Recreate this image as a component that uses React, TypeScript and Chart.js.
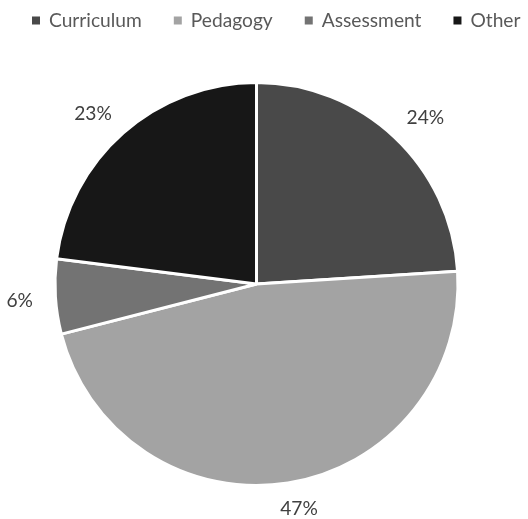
import React, { useEffect, useRef } from "react";
import { Chart, registerables } from "chart.js";

Chart.register(...registerables);

const categories = ["Curriculum", "Pedagogy", "Assessment", "Other"];
const shares = [24, 47, 6, 23];
const percentLabels = ["24%", "47%", "6%", "23%"];
const sliceColors = ["#494949", "#a3a3a3", "#737373", "#171717"];

const FONT = '"Lato", "Open Sans", sans-serif';
const FONT_SIZE = 19.2;

const labelPlugin = {
  id: "excelLabels",
  afterDraw(chart: any) {
    const ctx: CanvasRenderingContext2D = chart.ctx;
    ctx.save();
    ctx.font = `${FONT_SIZE}px ${FONT}`;
    // Legend
    let x = 32;
    categories.forEach((name, i) => {
      ctx.fillStyle = sliceColors[i];
      ctx.fillRect(x, 16.5, 8, 8);
      x += 8 + 9;
      ctx.fillStyle = "#595959";
      ctx.textBaseline = "alphabetic";
      ctx.textAlign = "left";
      ctx.fillText(name, x, 27);
      x += ctx.measureText(name).width + 32;
    });
    // Data labels, "outside end"
    const meta = chart.getDatasetMeta(0);
    const capH = ctx.measureText("0").actualBoundingBoxAscent;
    meta.data.forEach((arc: any, i: number) => {
      const p = arc.getProps(["x", "y", "startAngle", "endAngle", "outerRadius"], true);
      const mid = (p.startAngle + p.endAngle) / 2;
      const c = Math.cos(mid);
      const s = Math.sin(mid);
      const txt = percentLabels[i];
      const hw = ctx.measureText(txt).width / 2;
      const hh = 10;
      const r = p.outerRadius - 1.5;
      const ax = p.x + c * r;
      const ay = p.y + s * r;
      const cx = ax + Math.sign(c) * Math.sqrt(Math.abs(c)) * hw + c * 24;
      const cy = ay + Math.sign(s) * Math.sqrt(Math.abs(s)) * hh + s * 17;
      ctx.fillStyle = "#404040";
      ctx.textAlign = "center";
      ctx.textBaseline = "alphabetic";
      ctx.fillText(txt, cx, cy + capH / 2);
    });
    ctx.restore();
  },
};

export default function App() {
  const ref = useRef<HTMLCanvasElement>(null);
  useEffect(() => {
    const chart = new Chart(ref.current!, {
      type: "pie",
      data: {
        labels: categories,
        datasets: [
          {
            data: shares,
            backgroundColor: sliceColors,
            borderColor: "#ffffff",
            borderWidth: 3,
          },
        ],
      },
      options: {
        responsive: false,
        animation: false,
        layout: { padding: { top: 81, bottom: 32, left: 0, right: 15 } },
        plugins: {
          legend: { display: false },
          tooltip: { enabled: false },
        },
      },
      plugins: [labelPlugin],
    });
    return () => chart.destroy();
  }, []);
  return (
    <div style={{ position: "fixed", left: 0, top: 0, width: 528, height: 519, background: "#fff" }}>
      <canvas ref={ref} width={528} height={519} />
    </div>
  );
}
